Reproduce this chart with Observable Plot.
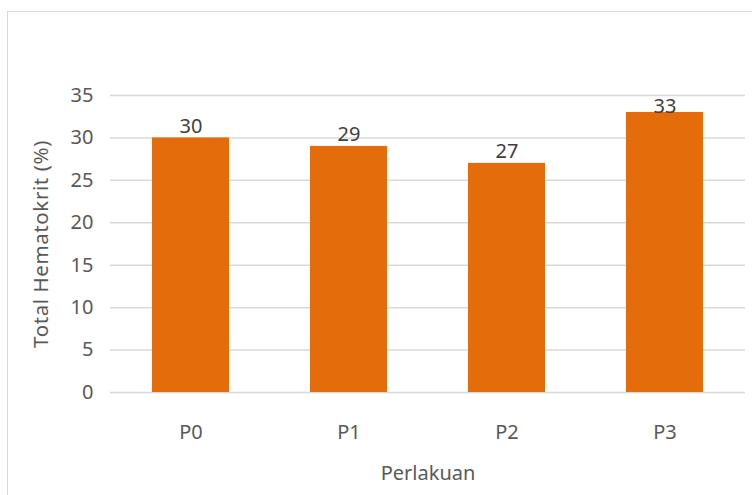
<!DOCTYPE html>
<html>
<head>
<meta charset="utf-8">
<script src="https://cdn.jsdelivr.net/npm/d3@7"></script>
<script src="https://cdn.jsdelivr.net/npm/@observablehq/plot@0.6"></script>
<style>
  html, body { margin: 0; padding: 0; background: #fff; overflow: hidden; }
  #wrap { position: relative; width: 752px; height: 495px; }
  #frame { position: absolute; left: 7px; top: 11px; width: 800px; height: 600px; border: 1px solid #d9d9d9; box-sizing: border-box; }
  #chart { position: absolute; left: 0; top: 0; }
  #chart svg [aria-label="y-axis label"] text { letter-spacing: 0.6px; font-size: 20.5px; }
  #chart svg [aria-label="x-axis label"] text { font-size: 20px; }
</style>
</head>
<body>
<div id="wrap">
  <div id="frame"></div>
  <div id="chart"></div>
</div>
<script>
const categories = ["P0", "P1", "P2", "P3"];
const values = [30, 29, 27, 33];
const yTicks = [0, 5, 10, 15, 20, 25, 30, 35];

const data = categories.map((c, i) => ({cat: c, value: values[i]}));
const yMax = 35;
const font = "'Noto Sans', 'Open Sans', sans-serif";

const chart = Plot.plot({
  width: 752,
  height: 495,
  marginLeft: 110,
  marginRight: 7,
  marginTop: 95,
  marginBottom: 103,
  style: {fontFamily: font, fontSize: "20px", color: "#595959", background: "transparent"},
  x: {domain: categories, paddingInner: 0.515, paddingOuter: 0.2575, label: "Perlakuan", labelAnchor: "center", labelOffset: 87, tickSize: 0, tickPadding: 32},
  y: {domain: [0, yMax], ticks: yTicks, label: "Total Hematokrit (%)", labelAnchor: "center", labelArrow: "none", labelOffset: 77, tickSize: 0, tickPadding: 17},
  marks: [
    Plot.gridY(yTicks.filter(t => t > 0), {stroke: "#d9d9d9", strokeOpacity: 1, strokeWidth: 1.5}),
    Plot.ruleY([0], {stroke: "#d9d9d9", strokeWidth: 1.5}),
    Plot.barY(data, {x: "cat", y: "value", fill: "#E46C0A"}),
    Plot.text(data.filter(d => d.value <= 31), {x: "cat", y: "value", text: d => String(d.value), lineAnchor: "bottom", dy: -5, fill: "#404040", fontSize: 20}),
    Plot.text(data.filter(d => d.value > 31), {x: "cat", y: () => yMax, text: d => String(d.value), lineAnchor: "top", dy: 3, fill: "#404040", fontSize: 20})
  ]
});
document.getElementById("chart").appendChild(chart);
</script>
</body>
</html>
